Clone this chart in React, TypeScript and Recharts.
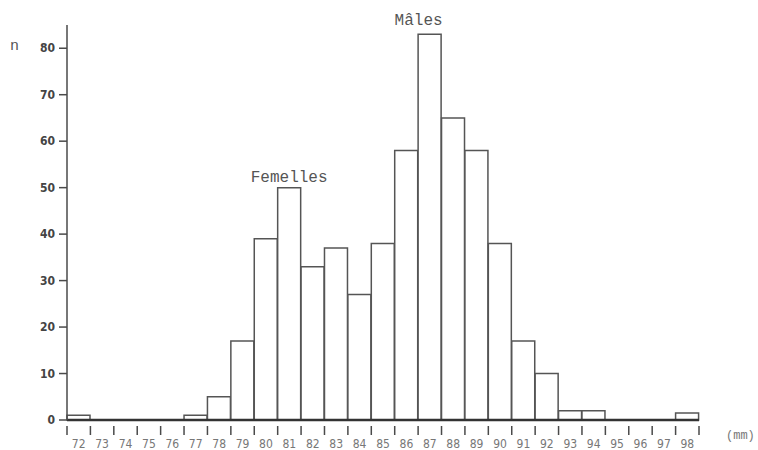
import { BarChart, Bar, XAxis, YAxis, LabelList } from "recharts";

const lengths = [72, 73, 74, 75, 76, 77, 78, 79, 80, 81, 82, 83, 84, 85, 86, 87, 88, 89, 90, 91, 92, 93, 94, 95, 96, 97, 98];
const counts = [1, 0, 0, 0, 0, 1, 5, 17, 39, 50, 33, 37, 27, 38, 58, 83, 65, 58, 38, 17, 10, 2, 2, 0, 0, 0, 1.5];
const yTicks = [0, 10, 20, 30, 40, 50, 60, 70, 80];
const annotations: Record<number, string> = { 81: "Femelles", 87: "Mâles" };

const data = lengths.map((l, i) => ({ mm: l, n: counts[i] }));

const W = 758;
const H = 450;
const PLOT_LEFT = 67;
const PLOT_RIGHT = 699;
const HALF = (PLOT_RIGHT - PLOT_LEFT) / lengths.length / 2;

const ink = "#4a4a4a";
const mono = "'Liberation Mono', 'DejaVu Sans Mono', monospace";
const narrow = "'Liberation Sans Narrow', 'DejaVu Sans Condensed', 'Liberation Sans', sans-serif";

function XTick(props: any) {
  const { x, y, payload, index } = props;
  const last = index === lengths.length - 1;
  return (
    <g>
      <line x1={x - HALF} x2={x - HALF} y1={y - 2} y2={y + 7} stroke={ink} strokeWidth={1.5} />
      {last && <line x1={x + HALF} x2={x + HALF} y1={y - 2} y2={y + 7} stroke={ink} strokeWidth={1.5} />}
      <text x={x} y={y + 20} textAnchor="middle" fontSize={12} fontFamily={narrow} fill="#777">
        {payload.value}
      </text>
    </g>
  );
}

function Annotation(props: any) {
  const vb = props.viewBox || props;
  const txt = annotations[props.value];
  if (!txt) return null;
  const isMale = props.value === 87;
  return (
    <text
      x={vb.x + vb.width / 2 + (isMale ? -11 : 0)}
      y={vb.y - (isMale ? 9 : 6)}
      textAnchor="middle"
      fontSize={16}
      fontFamily={mono}
      fill="#555"
    >
      {txt}
    </text>
  );
}

export default function App() {
  return (
    <div style={{ position: "absolute", left: 0, top: 0, width: W, height: H, background: "#fff" }}>
      <BarChart
        width={W}
        height={H}
        data={data}
        margin={{ top: 25, right: W - PLOT_RIGHT, bottom: 0, left: 0 }}
        barCategoryGap={0}
        barGap={0}
      >
        <XAxis
          dataKey="mm"
          height={30}
          interval={0}
          tickLine={false}
          axisLine={{ stroke: "#333", strokeWidth: 2.5 }}
          tick={<XTick />}
        />
        <YAxis
          width={PLOT_LEFT}
          domain={[0, 85]}
          ticks={yTicks}
          interval={0}
          tickSize={8}
          tickMargin={4}
          axisLine={{ stroke: ink, strokeWidth: 1.5 }}
          tickLine={{ stroke: ink, strokeWidth: 1.5 }}
          tick={{ fontSize: 12, fontFamily: narrow, fontWeight: "bold", fill: "#444" }}
        />
        <Bar dataKey="n" fill="#fff" stroke="#555" strokeWidth={1.5} isAnimationActive={false}>
          <LabelList dataKey="mm" content={<Annotation />} />
        </Bar>
      </BarChart>
      <div style={{ position: "absolute", left: 10, top: 38, fontFamily: mono, fontSize: 15, color: "#555" }}>n</div>
      <div style={{ position: "absolute", left: 726, top: 429, fontFamily: mono, fontSize: 12, color: "#777" }}>(mm)</div>
    </div>
  );
}
